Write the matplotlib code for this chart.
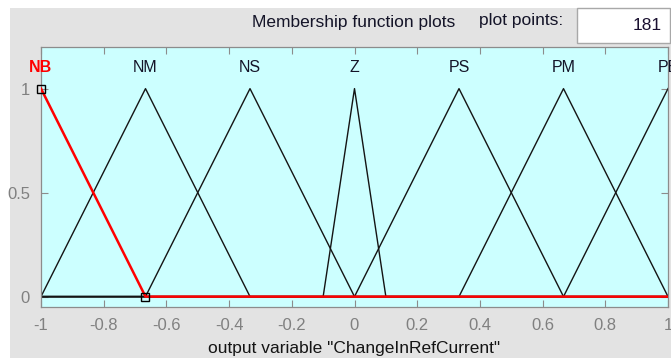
import numpy as np
import matplotlib
matplotlib.use("Agg")
import matplotlib.pyplot as plt
from matplotlib.patches import Rectangle

plt.rcParams['font.family'] = ['Liberation Sans', 'DejaVu Sans']

# Output variable and its membership functions (triangular: a, b, c)
var_name = "ChangeInRefCurrent"
var_range = [-1.0, 1.0]
plot_points = 181
mf_names = ["NB", "NM", "NS", "Z", "PS", "PM", "PB"]
mf_params = [
    [-1.667, -1.0, -0.6667],
    [-1.0, -0.6667, -0.3333],
    [-0.6667, -0.3333, 0.0],
    [-0.1, 0.0, 0.1],
    [0.0, 0.3333, 0.6667],
    [0.3333, 0.6667, 1.0],
    [0.6667, 1.0, 1.333],
]
selected = 0  # index of the highlighted function

x_ticks = [-1, -0.8, -0.6, -0.4, -0.2, 0, 0.2, 0.4, 0.6, 0.8, 1]
x_tick_labels = ["-1", "-0.8", "-0.6", "-0.4", "-0.2", "0", "0.2", "0.4", "0.6", "0.8", "1"]
y_ticks = [0, 0.5, 1]
y_tick_labels = ["0", "0.5", "1"]


def trimf(x, p):
    a, b, c = p
    x = np.asarray(x, dtype=float)
    left = (x - a) / (b - a) if b != a else np.ones_like(x)
    right = (c - x) / (c - b) if c != b else np.ones_like(x)
    return np.clip(np.minimum(left, right), 0, 1)


W, H = 671, 358
fig = plt.figure(figsize=(W / 100, H / 100), dpi=100)
fig.patch.set_facecolor('white')


def fx(px):
    return px / W


def fy(py):
    return 1 - py / H


# Background layer: grey panel, plot-points box and header texts
bg = fig.add_axes([0, 0, 1, 1], zorder=0)
bg.set_xlim(0, W)
bg.set_ylim(H, 0)
bg.axis('off')
bg.add_patch(Rectangle((10, 8), W - 10, H - 8, facecolor='#e3e3e3', edgecolor='none'))
bg.add_patch(Rectangle((577, 8), 93, 35, facecolor='white', edgecolor='#a8a8a8', lw=1.0))
bg.text(354, 23, "Membership function plots", ha='center', va='center',
        fontsize=12.5, color='#141428')
bg.text(563, 20, "plot points:", ha='right', va='center', fontsize=12.5, color='#141428')
bg.text(662, 26, str(plot_points), ha='right', va='center', fontsize=12.5, color='#1a1030')
bg.text(354, 349, f'output variable "{var_name}"', ha='center', va='center',
        fontsize=12.5, color='#141414')

ax = fig.add_axes([fx(41), fy(307), fx(668) - fx(41), fy(47) - fy(307)], zorder=1)
ax.set_facecolor('#ccffff')
ax.set_xlim(var_range)
ax.set_ylim(-0.05, 1.2)

x = np.linspace(var_range[0], var_range[1], plot_points)
for i, p in enumerate(mf_params):
    if i == selected:
        continue
    ax.plot(x, trimf(x, p), color='#141414', lw=1.0, zorder=2)

ax.plot(x, trimf(x, mf_params[selected]), color='#ff0000', lw=1.8, zorder=3)
# handles at the corner points of the selected function
handle_x = [mf_params[selected][1], mf_params[selected][2]]
handle_y = list(trimf(handle_x, mf_params[selected]))
ax.plot(handle_x, handle_y, ls='none', marker='s', ms=6, mfc='none',
        mec='black', mew=1.0, zorder=4, clip_on=False)

for i, (name, p) in enumerate(zip(mf_names, mf_params)):
    ax.text(p[1], 1.10, name, ha='center', va='center', fontsize=11.5,
            color='#ff0000' if i == selected else '#141428',
            fontweight='bold' if i == selected else 'normal', clip_on=False)

ax.set_xticks(x_ticks)
ax.set_xticklabels(x_tick_labels)
ax.set_yticks(y_ticks)
ax.set_yticklabels(y_tick_labels)
ax.tick_params(direction='in', length=5, width=0.8, color='#8c8c8c',
               labelcolor='#808080', labelsize=12, top=True, right=True, pad=8)
for s in ax.spines.values():
    s.set_color('#8c8c8c')
    s.set_linewidth(0.9)

fig.savefig('out.png', dpi=100)
